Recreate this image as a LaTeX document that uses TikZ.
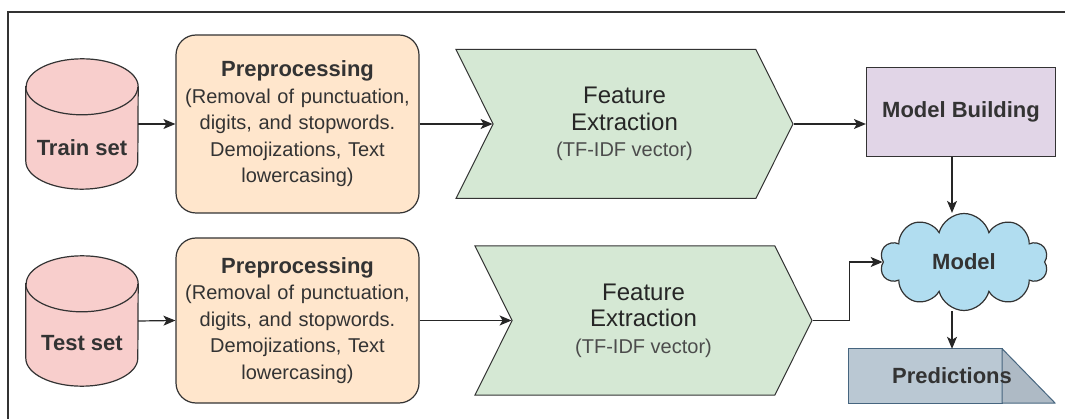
\documentclass[tikz,border=0pt]{standalone}
\usepackage{fontspec}
\setmainfont{Liberation Sans}
\usetikzlibrary{shapes.geometric, shapes.symbols, arrows.meta, positioning, calc, backgrounds}
\definecolor{mydark}{HTML}{333333}
\definecolor{cylred}{HTML}{F8CECC}
\definecolor{prepbg}{HTML}{FFE6CC}
\definecolor{featbg}{HTML}{D5E8D4}
\definecolor{buildbg}{HTML}{E1D5E7}
\definecolor{cloudbg}{HTML}{B1DDF0}
\definecolor{predbg}{HTML}{BAC8D3}
\definecolor{predtri}{HTML}{AEBAC5}
\definecolor{predline}{HTML}{46657F}
\newcommand{\ttlfont}{\fontsize{22}{26.5}\selectfont\bfseries}
\newcommand{\txtfont}{\fontsize{20}{26.5}\selectfont\mdseries}
\newcommand{\featfont}{\fontsize{24}{26.5}\selectfont}
\tikzset{
  dataset/.style={rectangle, minimum width=112pt, minimum height=130pt, inner sep=0pt},
  cylline/.style={draw=mydark, fill=cylred, line width=1.2pt},
  prepbox/.style={rectangle, rounded corners=20pt, draw=mydark, fill=prepbg,
    minimum width=243pt, text width=235pt, align=center, line width=1.2pt,
    font=\txtfont, text=mydark, inner sep=0pt},
  featbox/.style={signal, signal to=east, signal from=west, signal pointer angle=127,
    draw=mydark, fill=featbg, minimum width=337pt, minimum height=149pt,
    inner sep=0pt, align=center, line width=1pt, font=\featfont, text=black!85},
  buildbox/.style={rectangle, draw=mydark, fill=buildbg, minimum width=189pt,
    minimum height=89pt, line width=1.2pt, font=\ttlfont, text=mydark},
  modelcloud/.style={cloud, cloud puffs=10, aspect=1.7, draw=mydark, fill=cloudbg,
    minimum width=168pt, minimum height=97pt, line width=1.2pt, font=\ttlfont,
    text=mydark, inner sep=0pt},
  predtext/.style={rectangle, minimum width=206pt, minimum height=54pt,
    font=\ttlfont, text=mydark, inner sep=0pt},
  arrow/.style={-{Stealth[length=12pt,width=10pt,inset=3pt]}, line width=1.2pt, color=black!85},
  line/.style={line width=1.2pt, color=black!85}
}

\begin{document}
\begin{tikzpicture}[x=1pt, y=-1pt]
  \useasboundingbox (0,0) rectangle (1065,419);
  \draw[line width=1.5pt, mydark] (8,419) -- (8,12) -- (1065,12);

  % Train branch
  \node[dataset, label={[yshift=-24pt, font=\ttlfont, text=mydark]center:Train set}] (train) at (82,124) {};
  \node[prepbox, minimum height=178pt] (prep1) at (297.5,124)
    {{\ttlfont Preprocessing}\\ (Removal of punctuation,\\ digits, and stopwords.\\ Demojizations, Text\\ lowercasing)};
  \node[featbox] (feat1) at (624.5,124)
    {Feature\\ Extraction\\ {\txtfont\color{black!70}\rule{0pt}{26pt}(TF-IDF vector)}};
  \node[buildbox] (build) at (961,112) {Model Building};

  % Test branch
  \node[dataset, label={[yshift=-22pt, font=\ttlfont, text=mydark]center:Test set}] (test) at (82,321) {};
  \node[prepbox, minimum height=165pt] (prep2) at (297.5,320.5)
    {{\ttlfont Preprocessing}\\ (Removal of punctuation,\\ digits, and stopwords.\\ Demojizations, Text\\ lowercasing)};
  \node[featbox] (feat2) at (643.5,320.5)
    {Feature\\ Extraction\\ {\txtfont\color{black!70}\rule{0pt}{26pt}(TF-IDF vector)}};
  \node[modelcloud] (model) at (964,262) {Model};
  \node[predtext] (pred) at (952,376) {Predictions};

  % Shapes behind the texts
  \begin{scope}[on background layer]
    \foreach \c in {train, test} {
      \filldraw[cylline] ($(\c.north west)+(0,-28pt)$) -- ($(\c.south west)+(0,28pt)$)
        arc[start angle=180, end angle=360, x radius=56pt, y radius=28pt]
        -- ($(\c.north east)+(0,-28pt)$)
        arc[start angle=0, end angle=180, x radius=56pt, y radius=28pt] -- cycle;
      \draw[cylline, fill=none] ($(\c.north west)+(0,-28pt)$)
        arc[start angle=180, end angle=360, x radius=56pt, y radius=28pt];
    }
    \filldraw[predline, fill=predbg, line width=1pt] (pred.south west) rectangle ($(pred.north east)+(-53pt,0)$);
    \filldraw[predline, fill=predtri, line width=1pt, line join=round]
      ($(pred.north east)+(-53pt,0)$) -- (pred.south east) -- ($(pred.south east)+(-53pt,0)$) -- cycle;
  \end{scope}

  % Paths
  \draw[arrow] (train.east) -- (prep1.west);
  \draw[arrow] (prep1.east) -- (feat1.west);
  \draw[arrow] (feat1.east) -- (feat1.east -| build.west);
  \draw[arrow] (build.south -| pred.north) -- (model.north -| pred.north);
  \draw[arrow] (test.east) -- (prep2.west);
  \draw[arrow] (prep2.east) -- (feat2.west);
  \draw[arrow] (feat2.east) -- ($(feat2.east)+(37pt,0)$) |- (model.west);
  \draw[arrow] (model.south -| pred.north) -- (pred.north);
\end{tikzpicture}
\end{document}
